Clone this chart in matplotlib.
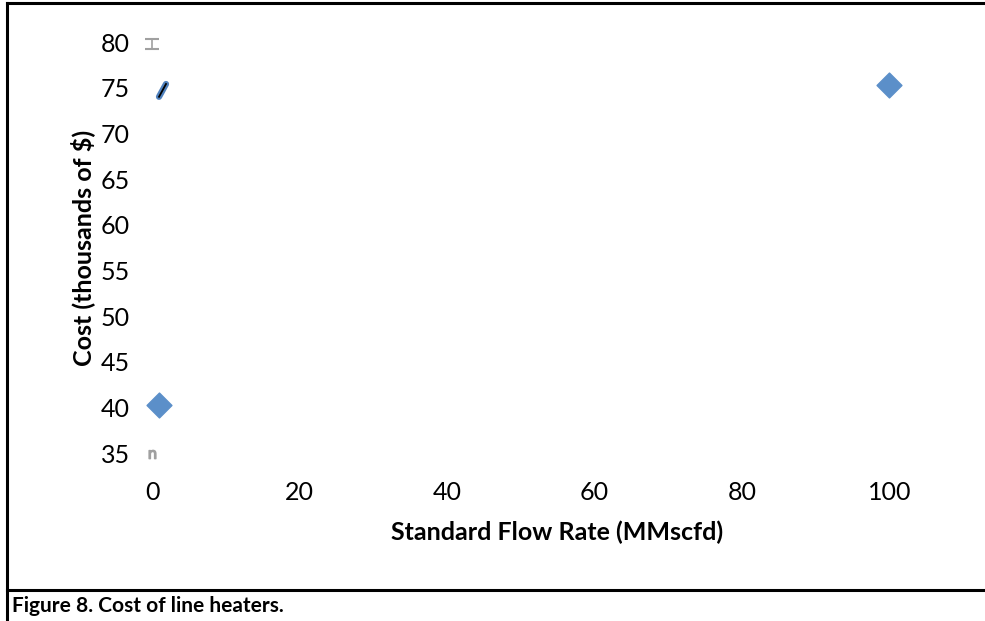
import matplotlib
matplotlib.use("Agg")
import matplotlib.pyplot as plt
from matplotlib.lines import Line2D

plt.rcParams["font.family"] = ["Lato", "DejaVu Sans"]

# heater cost data
flow_rate = [1, 100]          # MMscfd
cost = [40.3, 75.3]           # thousands of $

# short trend segment near the origin
seg_x = [0.95, 1.9]
seg_y = [74.0, 75.4]

# grey end marks on the value axis
cap_top = (0, 79.8)
cap_bottom = (0, 34.9)

x_ticks = [0, 20, 40, 60, 80, 100]
y_ticks = [35, 40, 45, 50, 55, 60, 65, 70, 75, 80]

fig = plt.figure(figsize=(9.85, 6.21), dpi=100)
ax = fig.add_axes([152 / 985, 168 / 621, 811 / 985, 411 / 621])

ax.scatter(flow_rate, cost, marker="D", s=160, color="#5b8fc9",
           edgecolor="#5b8fc9", zorder=3, clip_on=False)
ax.plot(seg_x, seg_y, color="#4f81bd", lw=4.5, solid_capstyle="round",
        zorder=3, clip_on=False)
ax.plot(seg_x, seg_y, color="black", lw=1.3, zorder=4, clip_on=False)

eb = ax.errorbar(*cap_top, yerr=0.55, color="#a0a0a0", capsize=5,
                 elinewidth=1.2, capthick=1.5)
for a in eb.lines[1] + eb.lines[2]:
    a.set_clip_on(False)
ax.plot(*cap_bottom, marker="$\\mathsf{n}$", markersize=6, color="#a0a0a0",
        clip_on=False)

ax.set_xlim(0, 110)
ax.set_ylim(35, 80)
ax.set_xticks(x_ticks)
ax.set_yticks(y_ticks)
ax.tick_params(length=0, labelsize=18, pad=20)
ax.tick_params(axis="y", pad=16)
for s in ax.spines.values():
    s.set_visible(False)

ax.set_xlabel("Standard Flow Rate (MMscfd)", fontsize=18, fontweight="bold",
              labelpad=12)
ax.set_ylabel("Cost (thousands of $)", fontsize=18, fontweight="bold",
              labelpad=4)

# page frame and caption row
lw = 2.2
fig.add_artist(Line2D([7 / 985, 7 / 985], [0, 1 - 3 / 621], color="black",
                      lw=lw, transform=fig.transFigure))
fig.add_artist(Line2D([7 / 985, 1], [1 - 3 / 621, 1 - 3 / 621], color="black",
                      lw=lw, transform=fig.transFigure))
fig.add_artist(Line2D([7 / 985, 1], [1 - 590 / 621, 1 - 590 / 621],
                      color="black", lw=lw, transform=fig.transFigure))
fig.text(12 / 985, 1 - 606 / 621, "Figure 8. Cost of line heaters.",
         fontsize=15, fontweight="bold", va="center", ha="left")

fig.savefig("out.png", dpi=100)
